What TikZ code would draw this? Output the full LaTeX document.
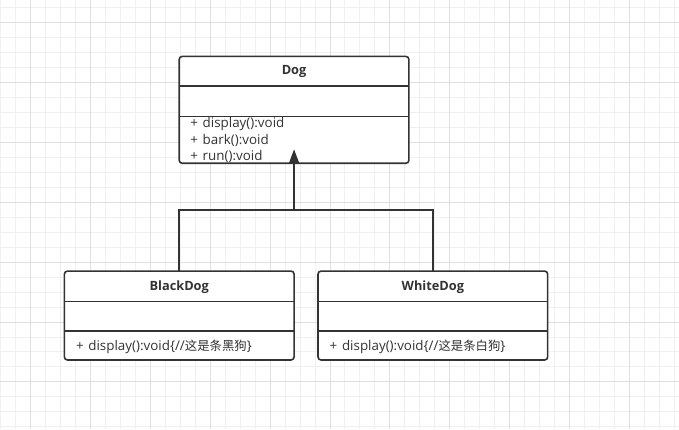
\documentclass[tikz,border=0pt]{standalone}
\usepackage{fontspec}
\setmainfont{Open Sans}
\newfontfamily\cjkfont{Noto Sans CJK SC}
\usetikzlibrary{arrows.meta,calc}
\definecolor{linec}{HTML}{333333}
\definecolor{textc}{HTML}{333333}
\definecolor{gridminor}{HTML}{F0F0F0}
\definecolor{gridmajor}{HTML}{E0E0E0}
\newcommand{\cjktxt}[1]{{\fontsize{12.4}{14}\cjkfont #1}}
\begin{document}
\begin{tikzpicture}[x=1pt,y=-1pt,
  classbox/.style={draw=linec, line width=1.6pt, rounded corners=3pt, fill=white,
    minimum width=230pt, inner sep=0pt, outer sep=0pt, anchor=north west},
  sepline/.style={draw=linec, line width=1.6pt},
  titletext/.style={font=\fontsize{12.8}{14}\selectfont\bfseries, text=textc, inner sep=0pt},
  methtext/.style={font=\fontsize{13.4}{15}\selectfont, text=textc, inner sep=0pt, anchor=west},
  conn/.style={draw=linec, line width=1.6pt},
  gminor/.style={draw=gridminor, line width=1pt},
  gmajor/.style={draw=gridmajor, line width=1pt}]
\fill[white] (0,0) rectangle (679,429);
\foreach \x in {0,15,...,675} \draw[gminor] (\x,0) -- (\x,429);
\foreach \y in {7,22,...,427} \draw[gminor] (0,\y) -- (679,\y);
\foreach \x in {30,90,...,630} \draw[gmajor] (\x,0) -- (\x,429);
\foreach \y in {22,82,...,382} \draw[gmajor] (0,\y) -- (679,\y);
\useasboundingbox (0,0) rectangle (679,429);

% Dog
\node[classbox, minimum height=107pt] (dog) at (179,56) {};
\draw[sepline] ($(dog.north west)+(0,29.5)$) -- ($(dog.north east)+(0,29.5)$);
\draw[sepline] ($(dog.north west)+(0,60)$) -- ($(dog.north east)+(0,60)$);
\node[titletext] (dogt) at ($(dog.north)+(0,15.5)$) {Dog};
\node[methtext] (dogm1) at ($(dog.north west)+(11,68)$) {+\hspace{1.2pt} display():void};
\node[methtext] (dogm2) at ($(dog.north west)+(11,84)$) {+\hspace{1.2pt} bark():void};
\node[methtext] (dogm3) at ($(dog.north west)+(11,100)$) {+\hspace{1.2pt} run():void};

% BlackDog
\node[classbox, minimum height=89pt] (bd) at (64,271) {};
\draw[sepline] ($(bd.north west)+(0,30.5)$) -- ($(bd.north east)+(0,30.5)$);
\draw[sepline] ($(bd.north west)+(0,60)$) -- ($(bd.north east)+(0,60)$);
\node[titletext] (bdt) at ($(bd.north)+(0,16)$) {BlackDog};
\node[methtext] (bdm1) at ($(bd.north west)+(11.5,76)$) {+\hspace{1.2pt} display():void\{//\cjktxt{这是条黑狗}\}};

% WhiteDog
\node[classbox, minimum height=89pt] (wd) at (318,271) {};
\draw[sepline] ($(wd.north west)+(0,30.5)$) -- ($(wd.north east)+(0,30.5)$);
\draw[sepline] ($(wd.north west)+(0,60)$) -- ($(wd.north east)+(0,60)$);
\node[titletext] (wdt) at ($(wd.north)+(0,16)$) {WhiteDog};
\node[methtext] (wdm1) at ($(wd.north west)+(11.5,76)$) {+\hspace{1.2pt} display():void\{//\cjktxt{这是条白狗}\}};

% Connectors
\coordinate (joint) at ($(dog.south)+(0,47)$);
\coordinate (tip) at ($(dog.south)+(0,-14)$);
\draw[conn] (bd.north) |- (joint) -| (wd.north);
\draw[conn, -{Triangle[length=14pt,width=10pt]}] (joint) -- (tip);
\end{tikzpicture}
\end{document}
